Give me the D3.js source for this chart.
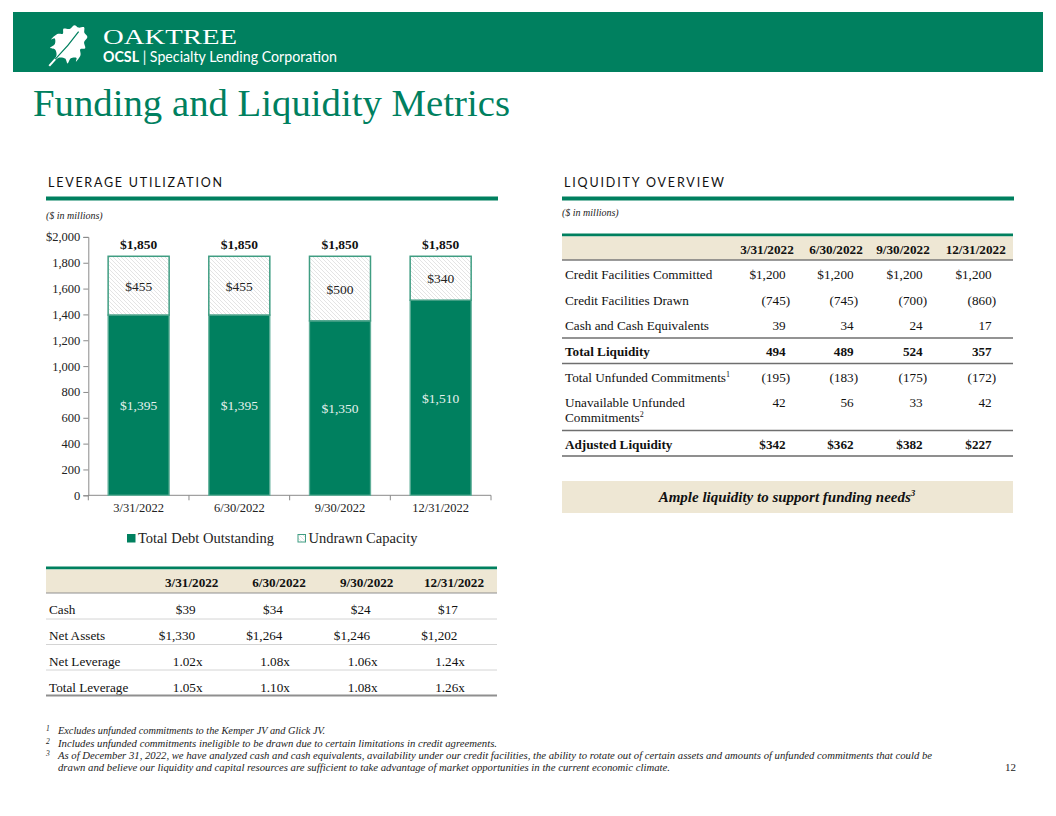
<!DOCTYPE html>
<html><head><meta charset="utf-8">
<script src="https://cdn.jsdelivr.net/npm/d3@7"></script>
<style>
body{margin:0;background:#fff;}
svg{display:block;}
text{font-family:"Liberation Serif","Times New Roman",serif;}
</style></head>
<body>
<svg id="c" width="1056" height="816"></svg>
<script>
// ---------- DATA ----------
const categories = ["3/31/2022","6/30/2022","9/30/2022","12/31/2022"];
const debtOutstanding = [1395,1395,1350,1510];
const undrawnCapacity = [455,455,500,340];
const yTicks = [0,200,400,600,800,1000,1200,1400,1600,1800,2000];
const legendLabels = ["Total Debt Outstanding","Undrawn Capacity"];

const levRowLabels = ["Cash","Net Assets","Net Leverage","Total Leverage"];
const levCash = ["$39","$34","$24","$17"];
const levNetAssets = ["$1,330","$1,264","$1,246","$1,202"];
const levNetLeverage = ["1.02x","1.08x","1.06x","1.24x"];
const levTotalLeverage = ["1.05x","1.10x","1.08x","1.26x"];

const liqCommitted = ["$1,200","$1,200","$1,200","$1,200"];
const liqDrawn = ["(745)","(745)","(700)","(860)"];
const liqCash = ["39","34","24","17"];
const liqTotal = ["494","489","524","357"];
const liqUnfunded = ["(195)","(183)","(175)","(172)"];
const liqUnavailable = ["42","56","33","42"];
const liqAdjusted = ["$342","$362","$382","$227"];

const footnotes = [
 "Excludes unfunded commitments to the Kemper JV and Glick JV.",
 "Includes unfunded commitments ineligible to be drawn due to certain limitations in credit agreements.",
 "As of December 31, 2022, we have analyzed cash and cash equivalents, availability under our credit facilities, the ability to rotate out of certain assets and amounts of unfunded commitments that could be",
 "drawn and believe our liquidity and capital resources are sufficient to take advantage of market opportunities in the current economic climate."
];

// ---------- STYLE ----------
const GREEN = "#00805f";
const BEIGE = "#eee7d4";
const svg = d3.select("#c");

// header band
svg.append("rect").attr("x",13).attr("y",12).attr("width",1030).attr("height",60).attr("fill",GREEN);
// leaf logo
const leafR = [[2,-6],[7,-9],[12,-7],[11,-13],[15,-17],[17,-14],[16,-22],[12,-26],[15,-30],[10,-34],[9,-40],[4,-41],[0,-45]];
const leafPts = leafR.concat(leafR.slice(0,-1).reverse().map(p=>[-p[0]*0.95,p[1]]));
const lg = svg.append("g").attr("transform","translate(68,45) rotate(42) translate(0,21)");
lg.append("path").attr("d",d3.line().curve(d3.curveCatmullRomClosed)([[0,0]].concat(leafPts))).attr("fill","#fff");
lg.append("line").attr("x1",0).attr("y1",7).attr("x2",0).attr("y2",-2).attr("stroke","#fff").attr("stroke-width",2);
lg.append("path").attr("d","M0,-2 Q1,-20 -1,-38").attr("stroke",GREEN).attr("stroke-width",1.2).attr("fill","none");

svg.append("text").attr("x",103).attr("y",44).attr("fill","#fff").attr("font-size",22)
  .attr("textLength",134).attr("lengthAdjust","spacingAndGlyphs").text("OAKTREE");
const sub = svg.append("text").attr("x",103).attr("y",62).attr("fill","#fff").attr("font-size",15)
  .style("font-family","Lato, 'Open Sans', sans-serif").attr("textLength",234).attr("lengthAdjust","spacingAndGlyphs");
sub.append("tspan").attr("font-weight","bold").text("OCSL");
sub.append("tspan").text(" | Specialty Lending Corporation");

// title
svg.append("text").attr("x",33).attr("y",116).attr("fill",GREEN).attr("font-size",37)
  .attr("textLength",477).attr("lengthAdjust","spacingAndGlyphs").text("Funding and Liquidity Metrics");

// section headers
function section(x, label, w, tyMill){
  svg.append("text").attr("x",x+2).attr("y",187).attr("font-size",12.5).attr("fill","#111")
    .style("font-family","Lato, 'Open Sans', sans-serif").attr("textLength",w).attr("lengthAdjust","spacing").text(label);
  svg.append("rect").attr("x",x).attr("y",196.5).attr("width",452).attr("height",4).attr("fill",GREEN);
  svg.append("text").attr("x",x).attr("y",tyMill).attr("font-size",10).attr("font-style","italic").attr("fill","#222").text("($ in millions)");
}
section(46,"LEVERAGE UTILIZATION",174,219);
section(562,"LIQUIDITY OVERVIEW",160,216);

// ---------- CHART ----------
const x = d3.scaleBand().domain(categories).range([88.3,491]).paddingInner(0.394).paddingOuter(0.197);
const y = d3.scaleLinear().domain([0,2000]).range([495.3,236.9]);

const defs = svg.append("defs");
const pat = defs.append("pattern").attr("id","hatch").attr("patternUnits","userSpaceOnUse").attr("width",4).attr("height",4);
pat.append("rect").attr("width",4).attr("height",4).attr("fill","#fff");
pat.append("path").attr("d","M-1,-1 L5,5 M-1,3 L1,5 M3,-1 L5,1").attr("stroke","#d9d9d9").attr("stroke-width",0.7);

const yAxis = d3.axisLeft(y).tickValues(yTicks).tickSize(5).tickPadding(3)
  .tickFormat(d => d===2000 ? "$2,000" : d3.format(",")(d));
const ga = svg.append("g").attr("transform","translate(88.3,0)").call(yAxis);
ga.selectAll("text").attr("font-size",12.5).attr("fill","#222").style("font-family","'Liberation Serif',serif");
ga.selectAll("line,path").attr("stroke","#8a8a8a");

// x axis
const gx = svg.append("g").attr("transform","translate(0,495.3)");
gx.append("line").attr("x1",x.range()[0]).attr("x2",x.range()[1]).attr("stroke","#8a8a8a");
const bounds = d3.range(categories.length+1).map(i => x.range()[0] + i*x.step());
gx.selectAll("line.t").data(bounds).join("line").attr("class","t")
  .attr("x1",d=>d).attr("x2",d=>d).attr("y1",0).attr("y2",5).attr("stroke","#8a8a8a");
gx.selectAll("text").data(categories).join("text")
  .attr("x",d=>x(d)+x.bandwidth()/2).attr("y",17).attr("text-anchor","middle")
  .attr("font-size",12.5).attr("fill","#222").text(d=>d);

const bars = categories.map((c,i)=>({c, debt:debtOutstanding[i], und:undrawnCapacity[i]}));
const gb = svg.append("g");
gb.selectAll("rect.d").data(bars).join("rect").attr("class","d")
  .attr("x",d=>x(d.c)).attr("width",x.bandwidth())
  .attr("y",d=>y(d.debt)).attr("height",d=>y(0)-y(d.debt))
  .attr("fill",GREEN).attr("stroke","#5fae98").attr("stroke-width",1.3);
gb.selectAll("rect.u").data(bars).join("rect").attr("class","u")
  .attr("x",d=>x(d.c)).attr("width",x.bandwidth())
  .attr("y",d=>y(d.debt+d.und)).attr("height",d=>y(d.debt)-y(d.debt+d.und))
  .attr("fill","url(#hatch)").attr("stroke","#3f9d82").attr("stroke-width",1.5);
gb.selectAll("text.dl").data(bars).join("text").attr("class","dl")
  .attr("x",d=>x(d.c)+x.bandwidth()/2).attr("y",d=>(y(d.debt)+y(0))/2+5)
  .attr("text-anchor","middle").attr("font-size",13.5).attr("fill","#e6f2ee").text(d=>"$"+d3.format(",")(d.debt));
gb.selectAll("text.ul").data(bars).join("text").attr("class","ul")
  .attr("x",d=>x(d.c)+x.bandwidth()/2).attr("y",d=>(y(d.debt)+y(d.debt+d.und))/2+5)
  .attr("text-anchor","middle").attr("font-size",13.5).attr("fill","#222").text(d=>"$"+d3.format(",")(d.und));
gb.selectAll("text.tl").data(bars).join("text").attr("class","tl")
  .attr("x",d=>x(d.c)+x.bandwidth()/2).attr("y",d=>y(d.debt+d.und)-7)
  .attr("text-anchor","middle").attr("font-size",13.5).attr("font-weight","bold").attr("fill","#111")
  .text(d=>"$"+d3.format(",")(d.debt+d.und));

// legend
const legX = [127,297.5];
legendLabels.forEach((l,i)=>{
  svg.append("rect").attr("x",legX[i]+0.5).attr("y",534.5).attr("width",7.5).attr("height",7.5)
    .attr("fill",i===0?GREEN:"url(#hatch)").attr("stroke",i===0?GREEN:"#3f9d82").attr("stroke-width",1);
  svg.append("text").attr("x",legX[i]+11).attr("y",543).attr("font-size",14.5).attr("fill","#222").text(l);
});

// ---------- LEFT TABLE ----------
const lcols = [191.7,279,366.7,454];
svg.append("rect").attr("x",46).attr("y",566.5).attr("width",451).attr("height",3).attr("fill",GREEN);
svg.append("rect").attr("x",46).attr("y",569.5).attr("width",451).attr("height",23.5).attr("fill",BEIGE);
svg.append("line").attr("x1",46).attr("x2",497).attr("y1",593).attr("y2",593).attr("stroke","#8f8f8f").attr("stroke-width",1.2);
categories.forEach((c,i)=>svg.append("text").attr("x",lcols[i]).attr("y",586.5).attr("text-anchor","middle")
  .attr("font-size",13.2).attr("font-weight","bold").attr("fill","#111").text(c));
const levRows = [levCash, levNetAssets, levNetLeverage, levTotalLeverage];
const levOff = [-6,-14.7,-4,-4];
const levY = [614,640,666,692];
levRows.forEach((row,r)=>{
  svg.append("text").attr("x",49).attr("y",levY[r]).attr("font-size",13.2).attr("fill","#111").text(levRowLabels[r]);
  row.forEach((v,i)=>svg.append("text").attr("x",lcols[i]+levOff[r]).attr("y",levY[r]).attr("text-anchor","middle")
    .attr("font-size",13.2).attr("fill","#111").text(v));
  const ly = [619,644.5,670,695.5][r];
  svg.append("line").attr("x1",46).attr("x2",497).attr("y1",ly).attr("y2",ly)
    .attr("stroke", r===3?"#8f8f8f":"#d4d4d4").attr("stroke-width", r===3?2:1);
});

// ---------- RIGHT TABLE ----------
const rcolsR = [785.7,853.6,922.7,991.7];
const rhead = [767,836,903,975.7];
svg.append("rect").attr("x",562).attr("y",233.5).attr("width",451).attr("height",3).attr("fill",GREEN);
svg.append("rect").attr("x",562).attr("y",236.5).attr("width",451).attr("height",23.5).attr("fill",BEIGE);
svg.append("line").attr("x1",562).attr("x2",1013).attr("y1",260).attr("y2",260).attr("stroke","#7a7a7a").attr("stroke-width",1.3);
categories.forEach((c,i)=>svg.append("text").attr("x",rhead[i]).attr("y",253.5).attr("text-anchor","middle")
  .attr("font-size",13.2).attr("font-weight","bold").attr("fill","#111").text(c));

const liqRows = [
  {label:"Credit Facilities Committed", vals:liqCommitted, y:279},
  {label:"Credit Facilities Drawn", vals:liqDrawn, y:305},
  {label:"Cash and Cash Equivalents", vals:liqCash, y:330, line:338, lc:"#6f6f6f", lw:1.3},
  {label:"Total Liquidity", vals:liqTotal, y:355.5, bold:true, line:363.5, lc:"#6f6f6f", lw:1.3},
  {label:"Total Unfunded Commitments", sup:"1", vals:liqUnfunded, y:381.5},
  {label:"Unavailable Unfunded", label2:"Commitments", sup:"2", vals:liqUnavailable, y:407, line:430.5, lc:"#6f6f6f", lw:1.3},
  {label:"Adjusted Liquidity", vals:liqAdjusted, y:448.5, bold:true, line:456, lc:"#8f8f8f", lw:2}
];
liqRows.forEach(r=>{
  const t = svg.append("text").attr("x",565).attr("y",r.y).attr("font-size",13.2).attr("fill","#111")
    .attr("font-weight",r.bold?"bold":"normal");
  t.append("tspan").text(r.label);
  if(r.sup && !r.label2) t.append("tspan").attr("font-size",8).attr("dy",-5).text(r.sup);
  if(r.label2){
    const t2 = svg.append("text").attr("x",565).attr("y",r.y+14.5).attr("font-size",13.2).attr("fill","#111");
    t2.append("tspan").text(r.label2);
    t2.append("tspan").attr("font-size",8).attr("dy",-5).text(r.sup);
  }
  r.vals.forEach((v,i)=>{
    const neg = v.startsWith("(");
    svg.append("text").attr("x",rcolsR[i]+(neg?4.5:0)).attr("y",r.y).attr("text-anchor","end")
      .attr("font-size",13.2).attr("fill","#111").attr("font-weight",r.bold?"bold":"normal").text(v);
  });
  if(r.line) svg.append("line").attr("x1",562).attr("x2",1013).attr("y1",r.line).attr("y2",r.line)
    .attr("stroke",r.lc).attr("stroke-width",r.lw);
});

// Ample box
svg.append("rect").attr("x",562).attr("y",481).attr("width",451).attr("height",32).attr("fill",BEIGE);
const am = svg.append("text").attr("x",787).attr("y",502).attr("text-anchor","middle").attr("font-size",15)
  .attr("font-weight","bold").attr("font-style","italic").attr("fill","#111");
am.append("tspan").text("Ample liquidity to support funding needs");
am.append("tspan").attr("font-size",9).attr("dy",-6).text("3");

// ---------- FOOTNOTES ----------
const fnY = [734,746.5,759,771];
const fnW = [267,439,874,612];
const fnNum = ["1","2","3",null];
footnotes.forEach((f,i)=>{
  if(fnNum[i]) svg.append("text").attr("x",46).attr("y",fnY[i]-3).attr("font-size",7.5).attr("font-style","italic").attr("fill","#222").text(fnNum[i]);
  svg.append("text").attr("x",58).attr("y",fnY[i]).attr("font-size",10).attr("font-style","italic").attr("fill","#222")
    .attr("textLength",fnW[i]).attr("lengthAdjust","spacingAndGlyphs").text(f);
});
svg.append("text").attr("x",1016).attr("y",771).attr("text-anchor","end").attr("font-size",11).attr("fill","#222").text("12");
</script>
</body></html>
